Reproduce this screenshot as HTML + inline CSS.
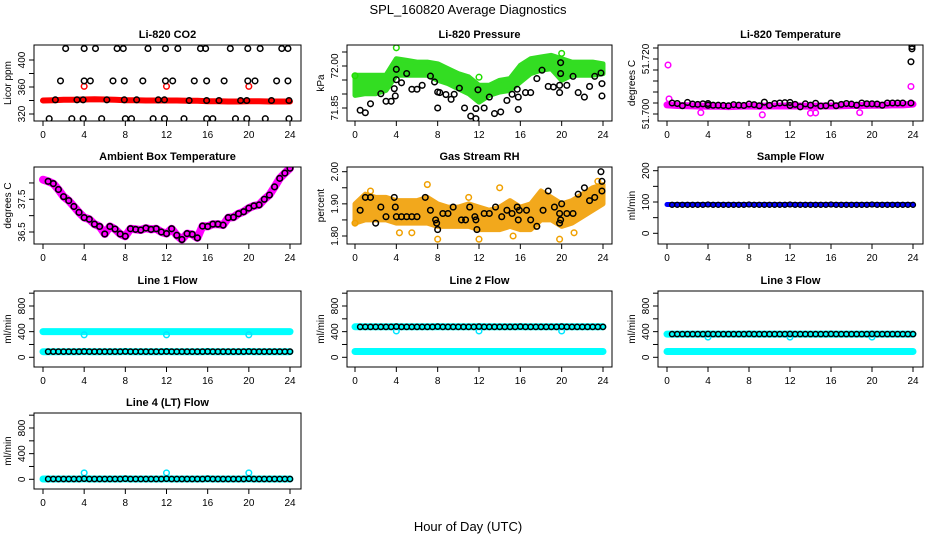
<!DOCTYPE html>
<html><head><meta charset="utf-8"><style>
html,body{margin:0;padding:0;background:#fff;}
svg{display:block;font-family:"Liberation Sans",sans-serif;}
</style></head><body>
<svg id="chart" width="936" height="540" viewBox="0 0 936 540" xmlns="http://www.w3.org/2000/svg">
<rect width="936" height="540" fill="#fff"/>
<text x="468" y="14" text-anchor="middle" font-size="13">SPL_160820  Average Diagnostics</text>
<text x="468" y="531" text-anchor="middle" font-size="13">Hour of Day (UTC)</text>
</svg>
<script>
// ---------- data ----------
const xTicks = [0,4,8,12,16,20,24];
const hours = [0,1,2,3,4,5,6,7,8,9,10,11,12,13,14,15,16,17,18,19,20,21,22,23,24];
const halfHours = [0,0.5,1,1.5,2,2.5,3,3.5,4,4.5,5,5.5,6,6.5,7,7.5,8,8.5,9,9.5,10,10.5,11,11.5,12,12.5,13,13.5,14,14.5,15,15.5,16,16.5,17,17.5,18,18.5,19,19.5,20,20.5,21,21.5,22,22.5,23,23.5,24];

// CO2
const co2Red = [340,340.5,341,341,341.5,342,341.5,341,340.5,340.5,340,340,340,340,339.5,339.5,339,339,338.5,338.5,339,339,338.5,338.5,338.5];
const co2OutHours = [4,12,20];
const co2OutVals = [361,361,361];
const co2TopHours = [2.2,4.0,5.1,7.2,7.8,10.2,11.9,13.1,15.3,15.8,18.2,19.9,21.1,23.2,23.8];
const co2TopVals = [417,417,417,417,417,417,417,417,417,417,417,417,417,417,417];
const co2MidHours = [1.7,4.0,4.6,6.8,7.9,9.7,11.9,12.6,14.7,15.9,17.6,19.9,20.6,22.7,23.8];
const co2MidVals = [369,369,369,369,369,369,369,369,369,369,369,369,369,369,369];
const co2LowHours = [0.6,2.8,3.9,5.7,8.0,8.6,10.7,11.8,13.7,15.9,16.5,18.7,19.8,21.6,23.9];
const co2LowVals = [313,313,313,313,313,313,313,313,313,313,313,313,313,313,313];
const co2BandHours = [1.2,3.3,3.9,6.2,7.9,9.1,11.2,11.8,14.2,15.9,17.1,19.2,19.8,22.2,23.9];
const co2BandVals = [341,341,341,341,341,341,341,341,340,340,340,340,340,340,340];

// Pressure
const presHi = [71.967,71.967,71.967,71.967,72.026,72.020,72.014,72.014,72.008,71.990,71.973,71.961,71.931,71.931,71.949,71.955,72.002,72.026,72.032,72.038,72.026,72.014,72.014,72.014,72.008];
const presLo = [71.895,71.901,71.901,71.913,71.967,71.967,71.967,71.967,71.949,71.937,71.919,71.901,71.871,71.895,71.907,71.913,71.943,71.973,71.985,71.990,71.949,71.967,71.967,71.967,71.973];
const presGreenOutHours = [0,4,12,20];
const presGreenOutVals = [71.965,72.065,71.960,72.045];
const presBlackHours = [0.5,1,1.5,2.5,3,3.5,3.8,3.9,4,4,4.5,5,5.5,6,6.5,7.3,7.7,8,8,8.2,8.8,9.3,9.6,10.1,10.6,11.2,11.7,11.7,11.9,12.5,13,13.5,14.1,14.7,15.2,15.7,15.8,15.8,16.5,17,17.6,18.1,18.7,19.2,19.8,19.8,19.9,19.9,20.5,21.1,21.6,22.2,22.7,23.2,23.8,23.9,23.9];
const presBlackVals = [71.842,71.833,71.865,71.901,71.874,71.874,71.919,71.893,71.951,71.988,71.940,71.973,71.917,71.917,71.931,71.964,71.943,71.850,71.907,71.905,71.898,71.881,71.899,71.921,71.850,71.821,71.848,71.812,71.915,71.850,71.889,71.830,71.836,71.877,71.899,71.917,71.889,71.845,71.905,71.905,71.955,71.985,71.927,71.925,71.931,71.905,71.973,72.012,71.931,71.963,71.905,71.889,71.927,71.963,71.975,71.937,71.893];

// Li-820 temperature
const tempMag = [51.7033,51.7031,51.7030,51.7029,51.7028,51.7028,51.7027,51.7028,51.7029,51.7028,51.7029,51.7029,51.7029,51.7029,51.7028,51.7029,51.7029,51.7030,51.7031,51.7031,51.7032,51.7032,51.7033,51.7033,51.7036];
const tempMagOutHours = [0.1,0.2,3.3,9.3,14,14.5,18.8,23.8];
const tempMagOutVals = [51.7178,51.7055,51.7005,51.6997,51.7003,51.7004,51.7005,51.7100];
const tempBlackHours = [0.5,1,1.5,2,2.5,3,3.5,4,4,4.5,5,5.5,6,6.5,7,7.5,8,8.5,9,9.5,10,10.5,11,11.5,12,12,12.5,13,13.5,14,14.5,15,15.5,16,16.5,17,17.5,18,18.5,19,19.5,20,20.5,21,21.5,22,22.5,23,23.8,23.8,23.9,23.9];
const tempBlackVals = [51.7040,51.7038,51.7030,51.7042,51.7036,51.7035,51.7037,51.7038,51.7032,51.7032,51.7032,51.7031,51.7030,51.7034,51.7032,51.7031,51.7036,51.7034,51.7030,51.7043,51.7031,51.7038,51.7040,51.7041,51.7042,51.7031,51.7035,51.7026,51.7037,51.7032,51.7039,51.7029,51.7030,51.7040,51.7030,51.7035,51.7038,51.7036,51.7032,51.7040,51.7037,51.7037,51.7036,51.7032,51.7040,51.7040,51.7040,51.7040,51.7040,51.7190,51.7237,51.7245];

// Ambient box temperature
const ambVals = [38.1,38.05,37.98,37.8,37.58,37.46,37.28,37.1,36.94,36.89,36.74,36.67,36.44,36.67,36.59,36.44,36.37,36.6,36.58,36.56,36.62,36.58,36.6,36.5,36.45,36.6,36.4,36.27,36.45,36.43,36.32,36.68,36.67,36.74,36.74,36.71,36.94,36.95,37.06,37.12,37.23,37.3,37.33,37.5,37.63,37.88,38.14,38.3,38.45];

// Gas stream RH
const rhHi = [1.90,1.93,1.92,1.92,1.91,1.91,1.91,1.92,1.90,1.89,1.89,1.90,1.89,1.88,1.89,1.91,1.89,1.90,1.94,1.92,1.90,1.91,1.93,1.95,1.96];
const rhLo = [1.84,1.85,1.85,1.85,1.84,1.84,1.84,1.84,1.83,1.83,1.83,1.83,1.82,1.82,1.82,1.83,1.82,1.82,1.85,1.85,1.83,1.84,1.86,1.88,1.90];
const rhOutHours = [0,1.5,4.3,5.5,7,8,11,12,14,15.3,17.5,19.8,21.2,23.5];
const rhOutVals = [1.84,1.94,1.81,1.81,1.96,1.79,1.92,1.79,1.95,1.80,1.83,1.79,1.81,1.97];
const rhBlackHours = [0.5,1,1.5,2,2.5,3,3.8,3.9,4,4.5,5,5.5,6,6.8,7.3,7.8,7.9,8,8.5,9,9.5,10.3,10.7,11.1,11.6,11.7,11.8,12.5,13,13.6,14.2,14.7,15.2,15.7,15.8,15.9,16.6,17,17.6,18.2,18.7,19.3,19.8,19.8,19.9,20,20.5,21.1,21.6,22.2,22.7,23.2,23.8,23.9,23.9];
const rhBlackVals = [1.88,1.92,1.92,1.84,1.89,1.86,1.92,1.89,1.86,1.86,1.86,1.86,1.86,1.92,1.88,1.85,1.84,1.82,1.87,1.87,1.89,1.85,1.85,1.89,1.86,1.85,1.82,1.87,1.87,1.89,1.86,1.88,1.87,1.89,1.85,1.88,1.88,1.85,1.83,1.88,1.94,1.89,1.87,1.84,1.85,1.90,1.87,1.87,1.93,1.95,1.91,1.92,2.00,1.97,1.94];

// Sample flow (half-hourly)
const sampleBlue = [92,92,92,92,92,92,92,92,92,92,92,92,92,92,92,92,92,92,92,92,92,92,92,92,92,92,92,92,92,92,92,92,92,92,92,92,92,92,92,92,92,92,92,92,92,92,92,92,92];
const sampleBlack = [92,91,91,91,91,91,91,91,92,91,91,91,91,91,91,91,92,91,91,91,91,91,91,91,92,91,91,91,91,91,91,91,92,91,91,91,91,91,91,91,92,91,91,91,91,91,91,91,91];

// Line flows (half-hourly)
const l1Cyan = [400,400,400,400,400,400,400,400,400,400,400,400,400,400,400,400,400,400,400,400,400,400,400,400,400,400,400,400,400,400,400,400,400,400,400,400,400,400,400,400,400,400,400,400,400,400,400,400,400];
const l1Black = [88,88,88,88,88,88,88,88,90,88,88,88,88,88,88,88,90,88,88,88,88,88,88,88,90,88,88,88,88,88,88,88,90,88,88,88,88,88,88,88,90,88,88,88,88,88,88,88,88];
const l2Cyan = [90,90,90,90,90,90,90,90,90,90,90,90,90,90,90,90,90,90,90,90,90,90,90,90,90,90,90,90,90,90,90,90,90,90,90,90,90,90,90,90,90,90,90,90,90,90,90,90,90];
const l2Black = [475,475,475,475,475,475,475,475,478,475,475,475,475,475,475,475,478,475,475,475,475,475,475,475,478,475,475,475,475,475,475,475,478,475,475,475,475,475,475,475,478,475,475,475,475,475,475,475,475];
const l3Cyan = [90,90,90,90,90,90,90,90,90,90,90,90,90,90,90,90,90,90,90,90,90,90,90,90,90,90,90,90,90,90,90,90,90,90,90,90,90,90,90,90,90,90,90,90,90,90,90,90,90];
const l3Black = [362,362,362,362,362,362,362,362,364,362,362,362,362,362,362,362,364,362,362,362,362,362,362,362,364,362,362,362,362,362,362,362,364,362,362,362,362,362,362,362,364,362,362,362,362,362,362,362,362];
const l4Black = [5,5,5,5,5,5,5,5,8,5,5,5,5,5,5,5,8,5,5,5,5,5,5,5,8,5,5,5,5,5,5,5,8,5,5,5,5,5,5,5,8,5,5,5,5,5,5,5,5];
const flowOutHours = [4,12,20];
const l1Out = [350,350,350];
const l2Out = [410,410,410];
const l3Out = [315,315,315];
const l4Out = [100,100,100];

// ---------- drawing ----------
const svg = document.getElementById('chart');
const NS = 'http://www.w3.org/2000/svg';
function mk(tag, attrs, parent){
  const e = document.createElementNS(NS, tag);
  for (const k in attrs) e.setAttribute(k, attrs[k]);
  (parent || svg).appendChild(e);
  return e;
}
const cols = [{l:34,r:301,x0:43,x24:290},{l:347,r:612,x0:355,x24:603},{l:658,r:923,x0:667,x24:913}];
const rows = [{t:45,b:121},{t:167,b:244},{t:291,b:367},{t:413,b:489}];

function panel(name, title, ci, ri, vA, yA, vB, yB, ticks, labels, dec, ylab){
  const c = cols[ci], r = rows[ri];
  const g = mk('g', {});
  
  
  const xs = h => c.x0 + h * (c.x24 - c.x0) / 24;
  const ys = v => yA + (v - vA) * (yB - yA) / (vB - vA);
  const t = mk('text', {x:(c.l+c.r)/2, y:r.t-7, 'text-anchor':'middle', 'font-size':'11', 'font-weight':'bold'}, g);
  t.textContent = title;
  
  
  const clip = mk('clipPath', {id:'clip-'+name}, g);
  mk('rect', {x:c.l, y:r.t, width:c.r-c.l, height:r.b-r.t}, clip);
  const plot = mk('g', {'clip-path':'url(#clip-'+name+')'}, g);
  
  
  const box = mk('rect', {x:c.l, y:r.t, width:c.r-c.l, height:r.b-r.t, fill:'none', stroke:'#000', 'stroke-width':'1'}, g);
  
  
  xTicks.forEach(h => {
    mk('line', {x1:xs(h), x2:xs(h), y1:r.b, y2:r.b+5, stroke:'#000'}, g);
    const lb = mk('text', {x:xs(h), y:r.b+17, 'text-anchor':'middle', 'font-size':'10'}, g);
    lb.textContent = h;
    
    
  });
  ticks.forEach(v => {
    const y = ys(v);
    if (y < r.t - 1 || y > r.b + 1) return;
    mk('line', {x1:c.l-5, x2:c.l, y1:y, y2:y, stroke:'#000'}, g);
  });
  labels.forEach(v => {
    const y = ys(v);
    const lb = mk('text', {x:c.l-9, y:y, 'text-anchor':'middle', 'font-size':'10', transform:'rotate(-90 '+(c.l-9)+' '+y+')'}, g);
    lb.textContent = v.toFixed(dec);
    
    
  });
  const yl = mk('text', {x:c.l-23, y:(r.t+r.b)/2, 'text-anchor':'middle', 'font-size':'10', transform:'rotate(-90 '+(c.l-23)+' '+((r.t+r.b)/2)+')'}, g);
  yl.textContent = ylab;
  
  
  return {xs, ys, plot};
}
function pts(p, hs, vs, color, rad, sw, nm){
  hs.forEach((h,i) => {
    const e = mk('circle', {cx:p.xs(h), cy:p.ys(vs[i]), r:rad, fill:'none', stroke:color, 'stroke-width':sw}, p.plot);
    
    
  });
}
function line(p, hs, vs, color, w, nm){
  const d = hs.map((h,i) => (i?'L':'M') + p.xs(h).toFixed(1) + ' ' + p.ys(vs[i]).toFixed(1)).join(' ');
  const e = mk('path', {d:d, fill:'none', stroke:color, 'stroke-width':w, 'stroke-linejoin':'round', 'stroke-linecap':'round'}, p.plot);
  
  
}
function band(p, hs, lo, hi, color, nm){
  let d = hs.map((h,i) => (i?'L':'M') + p.xs(h).toFixed(1) + ' ' + p.ys(hi[i]).toFixed(1)).join(' ');
  for (let i = hs.length - 1; i >= 0; i--) d += ' L' + p.xs(hs[i]).toFixed(1) + ' ' + p.ys(lo[i]).toFixed(1);
  const e = mk('path', {d:d+' Z', fill:color, stroke:color, 'stroke-width':'5', 'stroke-linejoin':'round'}, p.plot);
  
  
}

// CO2
let p = panel('co2', 'Li-820 CO2', 0, 0, 320, 114, 400, 60, [320,340,360,380,400], [320,360,400], 0, 'Licor ppm');
line(p, hours, co2Red, '#ff0000', 6, 'co2-red-series');
pts(p, co2OutHours, co2OutVals, '#ff0000', 2.8, 1.5, 'co2-red-outlier');
pts(p, co2TopHours, co2TopVals, '#000', 2.8, 1.5, 'co2-black-point');
pts(p, co2MidHours, co2MidVals, '#000', 2.8, 1.5, 'co2-black-point');
pts(p, co2LowHours, co2LowVals, '#000', 2.8, 1.5, 'co2-black-point');
pts(p, co2BandHours, co2BandVals, '#000', 2.8, 1.5, 'co2-black-point');

// Pressure
p = panel('pressure', 'Li-820 Pressure', 1, 0, 71.85, 108, 72.00, 66, [71.85,71.90,71.95,72.00,72.05], [71.85,72.00], 2, 'kPa');
band(p, hours, presLo, presHi, '#33dd22', 'pressure-green-band');
pts(p, presGreenOutHours, presGreenOutVals, '#22dd00', 2.8, 1.5, 'pressure-green-outlier');
pts(p, presBlackHours, presBlackVals, '#000', 2.8, 1.5, 'pressure-black-point');

// Li-820 Temperature
p = panel('li820-temp', 'Li-820 Temperature', 2, 0, 51.700, 114, 51.720, 59, [51.700,51.704,51.708,51.712,51.716,51.720,51.724], [51.700,51.720], 3, 'degrees C');
line(p, hours, tempMag, '#ff00ff', 7, 'li820-temp-magenta-series');
pts(p, tempMagOutHours, tempMagOutVals, '#ff00ff', 2.8, 1.5, 'li820-temp-magenta-outlier');
pts(p, tempBlackHours, tempBlackVals, '#000', 2.8, 1.5, 'li820-temp-black-point');

// Ambient
p = panel('ambient', 'Ambient Box Temperature', 0, 1, 37.5, 199.3, 36.5, 232, [36.5,37.0,37.5,38.0], [36.5,37.5], 1, 'degrees C');
line(p, halfHours, ambVals, '#ff00ff', 8, 'ambient-magenta-series');
pts(p, halfHours.slice(1), ambVals.slice(1), '#000', 2.8, 1.6, 'ambient-black-point');

// RH
p = panel('rh', 'Gas Stream RH', 1, 1, 1.80, 236, 2.00, 171.7, [1.80,1.85,1.90,1.95,2.00], [1.80,1.90,2.00], 2, 'percent');
band(p, hours, rhLo, rhHi, '#f2a81c', 'rh-orange-band');
pts(p, rhOutHours, rhOutVals, '#f0a000', 2.8, 1.5, 'rh-orange-outlier');
pts(p, rhBlackHours, rhBlackVals, '#000', 2.8, 1.5, 'rh-black-point');

// Sample flow
p = panel('sample-flow', 'Sample Flow', 2, 1, 0, 233.3, 200, 170.7, [0,50,100,150,200], [0,100,200], 0, 'ml/min');
line(p, halfHours, sampleBlue, '#0000ff', 5, 'sample-flow-blue-series');
pts(p, halfHours.slice(1), sampleBlack.slice(1), '#000', 2.5, 1.3, 'sample-flow-black-point');

// Line flows
const fTicks = [0,200,400,600,800,1000], fLabels = [0,400,800];
p = panel('line1-flow', 'Line 1 Flow', 0, 2, 0, 357.3, 800, 306, fTicks, fLabels, 0, 'ml/min');
line(p, halfHours, l1Cyan, '#00ffff', 7, 'line1-cyan-series');
line(p, halfHours, l1Black, '#00ffff', 7, 'line1-cyan-low-series');
pts(p, flowOutHours, l1Out, '#00e5ff', 2.8, 1.5, 'line1-cyan-outlier');
pts(p, halfHours.slice(1), l1Black.slice(1), '#000', 2.6, 1.5, 'line1-black-point');

p = panel('line2-flow', 'Line 2 Flow', 1, 2, 0, 357.3, 800, 306, fTicks, fLabels, 0, 'ml/min');
line(p, halfHours, l2Cyan, '#00ffff', 7, 'line2-cyan-series');
line(p, halfHours, l2Black, '#00ffff', 7, 'line2-cyan-high-series');
pts(p, flowOutHours, l2Out, '#00e5ff', 2.8, 1.5, 'line2-cyan-outlier');
pts(p, halfHours.slice(1), l2Black.slice(1), '#000', 2.6, 1.5, 'line2-black-point');

p = panel('line3-flow', 'Line 3 Flow', 2, 2, 0, 357.3, 800, 306, fTicks, fLabels, 0, 'ml/min');
line(p, halfHours, l3Cyan, '#00ffff', 7, 'line3-cyan-series');
line(p, halfHours, l3Black, '#00ffff', 7, 'line3-cyan-high-series');
pts(p, flowOutHours, l3Out, '#00e5ff', 2.8, 1.5, 'line3-cyan-outlier');
pts(p, halfHours.slice(1), l3Black.slice(1), '#000', 2.6, 1.5, 'line3-black-point');

p = panel('line4-flow', 'Line 4 (LT) Flow', 0, 3, 0, 479.3, 800, 428, fTicks, fLabels, 0, 'ml/min');
line(p, halfHours, l4Black, '#00ffff', 7, 'line4-cyan-series');
pts(p, flowOutHours, l4Out, '#00e5ff', 2.8, 1.5, 'line4-cyan-outlier');
pts(p, halfHours.slice(1), l4Black.slice(1), '#000', 2.6, 1.5, 'line4-black-point');
</script>
</body></html>
